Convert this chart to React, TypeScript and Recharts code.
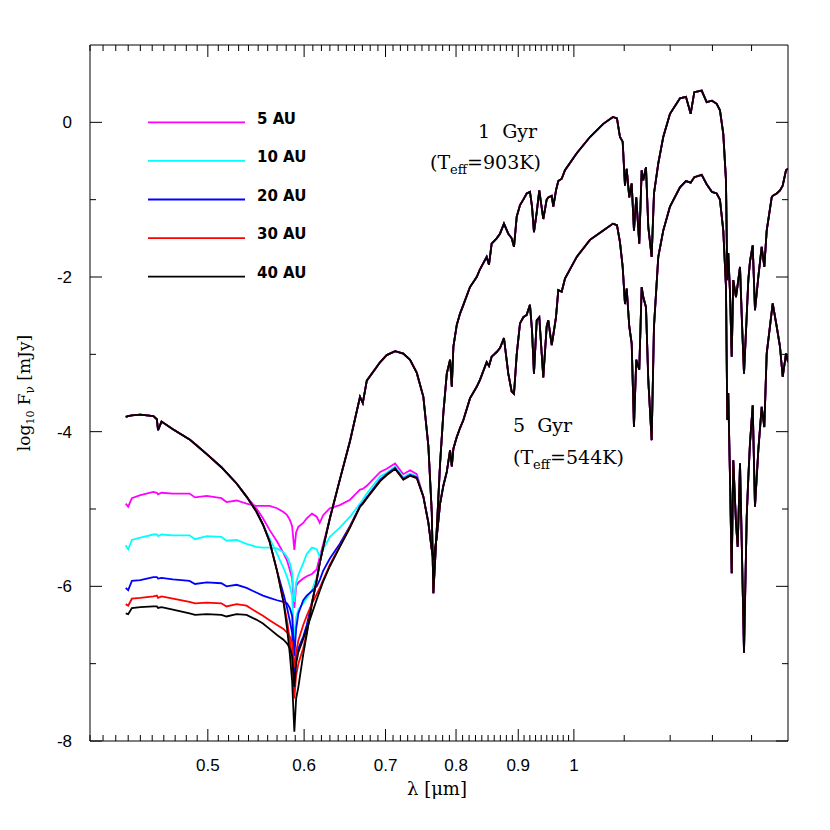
import { LineChart, Line, XAxis, YAxis } from "recharts";

// wavelength grid (micron), short-wave part where the separations differ
const headWl = [
  0.428, 0.43, 0.433, 0.44, 0.451, 0.454, 0.455, 0.458, 0.468, 0.483,
  0.488, 0.499, 0.513, 0.518, 0.528, 0.538, 0.548, 0.555, 0.562, 0.57,
  0.577, 0.581, 0.584, 0.5865, 0.589, 0.591, 0.5935, 0.599, 0.603, 0.609,
  0.6145, 0.618, 0.622, 0.63, 0.642, 0.6545, 0.667, 0.6705, 0.6756, 0.693,
  0.7016, 0.7128, 0.724, 0.7333, 0.7427,
];

// long-wave part, where all separations overlap
const tailWl = [
  0.752, 0.7592, 0.7641, 0.7664, 0.7713, 0.7762, 0.781, 0.7861, 0.791, 0.7936,
  0.796, 0.8011, 0.8062, 0.8112, 0.8214, 0.8319, 0.8371, 0.8478, 0.8515, 0.8558,
  0.864, 0.8694, 0.876, 0.8832, 0.8889, 0.8928, 0.8974, 0.903, 0.9087, 0.9145,
  0.9202, 0.9238, 0.9272, 0.9321, 0.9366, 0.9437, 0.9498, 0.9527, 0.9589, 0.9618,
  0.9667, 0.9709, 0.9772, 0.9833, 1.0054, 1.0309, 1.0572, 1.0768, 1.085, 1.0912,
  1.0968, 1.1016, 1.1052, 1.1106, 1.1157, 1.1205, 1.1254, 1.1318, 1.137, 1.1404,
  1.1463, 1.1513, 1.1587, 1.1638, 1.1733, 1.1844, 1.1996, 1.2225, 1.2364, 1.2475,
  1.2561, 1.2738, 1.2859, 1.2989, 1.3105, 1.3187, 1.327, 1.3338, 1.3371, 1.3396,
  1.344, 1.3483, 1.3524, 1.3593, 1.3637, 1.3697, 1.3749, 1.3801, 1.3872, 1.3914,
  1.3958, 1.403, 1.4091, 1.418, 1.4271, 1.4342, 1.4407, 1.4544, 1.4572, 1.4682,
  1.4774, 1.485, 1.4943, 1.5,
];

// ---- 1 Gyr model (log10 F_nu, mJy) ----
const gyr1Head5 = [
  -3.81, -3.8, -3.79, -3.78, -3.8, -3.84, -3.98, -3.87, -3.97, -4.1,
  -4.16, -4.29, -4.46, -4.53, -4.67, -4.84, -4.99, -5.12, -5.27, -5.42,
  -5.57, -5.67, -5.79, -5.9, -6.28, -6.0, -5.95, -5.9, -5.87, -5.84,
  -5.78, -5.62, -5.46, -5.12, -4.62, -4.12, -3.55, -3.63, -3.34, -3.1,
  -3.01, -2.96, -2.99, -3.07, -3.24,
];
const gyr1Head10 = [
  -3.81, -3.8, -3.79, -3.78, -3.8, -3.84, -3.98, -3.87, -3.97, -4.1,
  -4.16, -4.29, -4.46, -4.53, -4.67, -4.84, -5.03, -5.2, -5.38, -5.58,
  -5.76, -5.88, -6.0, -6.12, -6.78, -6.4, -6.3, -6.22, -6.15, -6.05,
  -5.88, -5.7, -5.5, -5.12, -4.62, -4.12, -3.55, -3.63, -3.34, -3.1,
  -3.01, -2.96, -2.99, -3.07, -3.24,
];
const gyr1Head20 = [
  -3.81, -3.8, -3.79, -3.78, -3.8, -3.84, -3.98, -3.87, -3.97, -4.1,
  -4.16, -4.29, -4.46, -4.53, -4.67, -4.84, -5.03, -5.2, -5.42, -5.8,
  -6.1, -6.28, -6.45, -6.6, -7.2, -6.9, -6.8, -6.65, -6.5, -6.2,
  -5.92, -5.7, -5.5, -5.12, -4.62, -4.12, -3.55, -3.63, -3.34, -3.1,
  -3.01, -2.96, -2.99, -3.07, -3.24,
];
const gyr1Head30 = [
  -3.81, -3.8, -3.79, -3.78, -3.8, -3.84, -3.98, -3.87, -3.97, -4.1,
  -4.16, -4.29, -4.46, -4.53, -4.67, -4.84, -5.03, -5.2, -5.42, -5.8,
  -6.2, -6.45, -6.7, -6.9, -7.45, -7.15, -7.0, -6.8, -6.6, -6.22,
  -5.92, -5.7, -5.5, -5.12, -4.62, -4.12, -3.55, -3.63, -3.34, -3.1,
  -3.01, -2.96, -2.99, -3.07, -3.24,
];
const gyr1Head40 = [
  -3.81, -3.8, -3.79, -3.78, -3.8, -3.84, -3.98, -3.87, -3.97, -4.1,
  -4.16, -4.29, -4.46, -4.53, -4.67, -4.84, -5.03, -5.2, -5.42, -5.8,
  -6.2, -6.55, -6.88, -7.22, -7.88, -7.45, -7.3, -6.88, -6.62, -6.22,
  -5.92, -5.7, -5.5, -5.12, -4.62, -4.12, -3.55, -3.63, -3.34, -3.1,
  -3.01, -2.96, -2.99, -3.07, -3.24,
];
const gyr1Tail = [
  -3.55, -4.19, -5.05, -6.09, -5.27, -4.41, -3.76, -3.25, -3.07, -3.42,
  -2.9, -2.62, -2.47, -2.36, -2.13, -2.0, -1.9, -1.74, -1.84, -1.57,
  -1.5, -1.44, -1.31, -1.44, -1.5, -1.61, -1.22, -1.07, -1.0, -0.92,
  -0.9, -1.09, -1.42, -1.16, -0.88, -1.25, -1.0, -0.97, -0.95, -1.09,
  -0.88, -0.76, -0.73, -0.62, -0.4, -0.19, -0.02, 0.07, 0.05, -0.19,
  -0.25, -0.82, -0.6, -0.97, -0.79, -1.4, -0.97, -1.57, -0.62, -0.75,
  -0.58, -1.35, -1.74, -0.92, -0.53, -0.19, 0.11, 0.31, 0.33, 0.11,
  0.39, 0.41, 0.26, 0.28, 0.24, 0.155, -0.15, -0.75, -2.04, -1.69,
  -2.2, -3.03, -2.04, -2.26, -2.1, -1.87, -2.6, -3.25, -2.5, -2.04,
  -1.8, -1.59, -2.43, -2.0, -1.61, -1.87, -1.4, -0.97, -0.95, -0.92,
  -0.88, -0.82, -0.62, -0.6,
];

// ---- 5 Gyr model ----
const gyr5Head5 = [
  -4.93, -4.97, -4.86, -4.82, -4.78, -4.79, -4.81, -4.79, -4.8, -4.8,
  -4.85, -4.83, -4.86, -4.91, -4.89, -4.93, -4.96, -4.96, -4.96, -4.99,
  -5.04, -5.08, -5.14, -5.22, -5.53, -5.3, -5.23, -5.18, -5.12, -5.06,
  -5.1, -5.18, -5.08, -4.99, -4.95, -4.88, -4.75, -4.74, -4.7, -4.52,
  -4.48, -4.41, -4.55, -4.5, -4.55,
];
const gyr5Head10 = [
  -5.47, -5.52, -5.4, -5.37, -5.33, -5.33, -5.35, -5.33, -5.34, -5.34,
  -5.39, -5.35, -5.36, -5.41, -5.4, -5.45, -5.49, -5.5, -5.5, -5.51,
  -5.56, -5.62, -5.7, -5.82, -6.2, -5.95, -5.85, -5.7, -5.58, -5.5,
  -5.52, -5.62, -5.52, -5.36, -5.24, -5.1, -4.93, -4.88, -4.8, -4.58,
  -4.53, -4.45, -4.59, -4.54, -4.58,
];
const gyr5Head20 = [
  -6.02, -6.05, -5.93, -5.92, -5.88, -5.88, -5.9, -5.89, -5.91, -5.93,
  -5.97, -5.95, -5.96, -6.0, -5.98, -6.02, -6.08, -6.12, -6.15, -6.18,
  -6.2, -6.22, -6.28, -6.38, -6.9, -6.55, -6.35, -6.18, -6.12, -6.06,
  -6.0, -5.92, -5.8, -5.64, -5.45, -5.22, -4.96, -4.92, -4.85, -4.62,
  -4.55, -4.47, -4.61, -4.56, -4.59,
];
const gyr5Head30 = [
  -6.23, -6.25, -6.16, -6.15, -6.13, -6.12, -6.15, -6.13, -6.16, -6.2,
  -6.22, -6.21, -6.22, -6.26, -6.23, -6.25, -6.33, -6.38, -6.44, -6.5,
  -6.55, -6.6, -6.65, -6.72, -7.05, -6.85, -6.7, -6.5, -6.38, -6.22,
  -6.1, -6.02, -5.92, -5.72, -5.48, -5.23, -4.97, -4.93, -4.86, -4.63,
  -4.56, -4.48, -4.62, -4.57, -4.6,
];
const gyr5Head40 = [
  -6.35, -6.36, -6.28, -6.27, -6.26, -6.26, -6.28, -6.27, -6.3, -6.35,
  -6.37, -6.36, -6.37, -6.39, -6.36, -6.37, -6.43, -6.48, -6.55, -6.63,
  -6.69, -6.74, -6.8, -6.9, -7.3, -7.0, -6.85, -6.68, -6.55, -6.35,
  -6.17, -6.06, -5.94, -5.74, -5.49, -5.24, -4.97, -4.93, -4.86, -4.64,
  -4.56, -4.48, -4.62, -4.57, -4.6,
];
const gyr5Tail = [
  -4.84, -5.18, -5.53, -5.66, -5.36, -4.93, -4.7, -4.52, -4.24, -4.45,
  -4.22, -4.07, -3.95, -3.85, -3.57, -3.42, -3.33, -3.1, -3.15, -3.03,
  -2.97, -2.92, -2.79, -3.25, -3.48, -3.51, -3.0, -2.6, -2.52, -2.49,
  -2.36, -2.69, -3.25, -2.56, -2.52, -3.3, -2.64, -2.56, -2.88, -2.75,
  -2.52, -2.17, -2.19, -2.02, -1.74, -1.52, -1.4, -1.31, -1.33, -1.55,
  -1.87, -2.35, -2.15, -2.64, -2.86, -3.94, -3.07, -3.2, -2.13, -2.26,
  -2.39, -3.33, -4.11, -2.64, -1.74, -1.4, -1.09, -0.84, -0.76, -0.78,
  -0.71, -0.68, -0.8, -0.9, -0.92, -1.0, -1.4, -2.13, -3.85, -3.5,
  -4.6, -5.83, -4.37, -5.18, -5.49, -4.41, -5.6, -6.86, -5.1, -4.6,
  -4.15, -3.66, -4.97, -4.24, -3.68, -3.94, -2.99, -2.45, -2.34, -2.64,
  -2.9, -3.29, -2.99, -3.1,
];

const separations = ["5 AU", "10 AU", "20 AU", "30 AU", "40 AU"];
const colors = ["#ff00ff", "#00ffff", "#0000ff", "#ff0000", "#000000"];

const xMajor = [0.5, 0.6, 0.7, 0.8, 0.9, 1];
const yMajor = [-8, -6, -4, -2, 0];
const yTicks = [-8, -7, -6, -5, -4, -3, -2, -1, 0];

// minor ticks every 0.01 below 1 micron, every 0.1 above
const xTicks: number[] = [];
for (let i = 40; i <= 100; i++) xTicks.push(i / 100);
for (let i = 11; i <= 14; i++) xTicks.push(i / 10);

const wavelengths = [...headWl, ...tailWl];
const gyr1 = [
  [...gyr1Head5, ...gyr1Tail],
  [...gyr1Head10, ...gyr1Tail],
  [...gyr1Head20, ...gyr1Tail],
  [...gyr1Head30, ...gyr1Tail],
  [...gyr1Head40, ...gyr1Tail],
];
const gyr5 = [
  [...gyr5Head5, ...gyr5Tail],
  [...gyr5Head10, ...gyr5Tail],
  [...gyr5Head20, ...gyr5Tail],
  [...gyr5Head30, ...gyr5Tail],
  [...gyr5Head40, ...gyr5Tail],
];

const data = wavelengths.map((wl, i) => {
  const row: Record<string, number> = { wl };
  separations.forEach((_, k) => {
    row[`g1_${k}`] = gyr1[k][i];
    row[`g5_${k}`] = gyr5[k][i];
  });
  return row;
});

const sans = "'Liberation Sans', Arimo, Arial, Helvetica, sans-serif";
const serif = "'DejaVu Serif', serif";
const MAJ = 12;
const MIN = 6;

const isMajor = (list: number[], v: number) => list.some((m) => Math.abs(m - v) < 1e-6);

function BottomTick(props: any) {
  const { x, y, payload } = props;
  const major = isMajor(xMajor, payload.value);
  return (
    <g>
      <line x1={x} y1={y} x2={x} y2={y - (major ? MAJ : MIN)} stroke="#000" />
      {major && (
        <text x={x} y={y + 30} textAnchor="middle" style={{ fontFamily: sans, fontSize: 17 }} fill="#000">
          {String(payload.value)}
        </text>
      )}
    </g>
  );
}

function TopTick(props: any) {
  const { x, y, payload } = props;
  const major = isMajor(xMajor, payload.value);
  return <line x1={x} y1={y} x2={x} y2={y + (major ? MAJ : MIN)} stroke="#000" />;
}

function LeftTick(props: any) {
  const { x, y, payload } = props;
  const major = isMajor(yMajor, payload.value);
  return (
    <g>
      <line x1={x} y1={y} x2={x + (major ? MAJ : MIN)} y2={y} stroke="#000" />
      {major && (
        <text x={x - 18} y={y + 6} textAnchor="end" style={{ fontFamily: sans, fontSize: 17 }} fill="#000">
          {String(payload.value)}
        </text>
      )}
    </g>
  );
}

function RightTick(props: any) {
  const { x, y, payload } = props;
  const major = isMajor(yMajor, payload.value);
  return <line x1={x} y1={y} x2={x - (major ? MAJ : MIN)} y2={y} stroke="#000" />;
}

const xAxisCommon = {
  dataKey: "wl",
  type: "number" as const,
  scale: "log" as const,
  domain: [0.4, 1.5],
  allowDataOverflow: true,
  ticks: xTicks,
  interval: 0,
  height: 1,
  tickSize: 0,
  tickMargin: 0,
  tickLine: false,
  axisLine: { stroke: "#000" },
};

const yAxisCommon = {
  type: "number" as const,
  domain: [-8, 1],
  allowDataOverflow: true,
  ticks: yTicks,
  interval: 0,
  width: 1,
  tickSize: 0,
  tickMargin: 0,
  tickLine: false,
  axisLine: { stroke: "#000" },
};

export default function App() {
  const order = [0, 1, 2, 3, 4];
  return (
    <div style={{ position: "absolute", left: 0, top: 0, width: 830, height: 830, background: "#fff" }}>
      <LineChart width={830} height={830} data={data} margin={{ top: 44, right: 41, bottom: 88, left: 89 }}>
        <XAxis xAxisId="b" {...xAxisCommon} tick={BottomTick} />
        <XAxis xAxisId="t" orientation="top" {...xAxisCommon} tick={TopTick} />
        <YAxis yAxisId="l" {...yAxisCommon} tick={LeftTick} />
        <YAxis yAxisId="r" orientation="right" {...yAxisCommon} tick={RightTick} />
        {order.map((k) => [
          <Line
            key={`g5_${k}`}
            xAxisId="b"
            yAxisId="l"
            type="linear"
            dataKey={`g5_${k}`}
            stroke={colors[k]}
            strokeWidth={1.8}
            dot={false}
            isAnimationActive={false}
          />,
          <Line
            key={`g1_${k}`}
            xAxisId="b"
            yAxisId="l"
            type="linear"
            dataKey={`g1_${k}`}
            stroke={colors[k]}
            strokeWidth={1.8}
            dot={false}
            isAnimationActive={false}
          />,
        ])}
      </LineChart>

      <svg width={830} height={830} style={{ position: "absolute", left: 0, top: 0, pointerEvents: "none" }}>
        {separations.map((s, k) => (
          <g key={s}>
            <line x1={148} x2={245} y1={122.3 + k * 38.6} y2={122.3 + k * 38.6} stroke={colors[k]} strokeWidth={1.8} />
            <text x={257} y={123.5 + k * 38.6} style={{ fontFamily: "'DejaVu Sans', sans-serif", fontWeight: "bold", fontSize: 15 }} fill="#000">
              {s}
            </text>
          </g>
        ))}

        <text x={478} y={138} style={{ fontFamily: serif, fontSize: 19, whiteSpace: "pre" }} fill="#000">
          {"1  Gyr"}
        </text>
        <text x={430} y={169} style={{ fontFamily: serif, fontSize: 19 }} fill="#000">
          (T<tspan dy={5} fontSize={13}>eff</tspan>
          <tspan dy={-5}>=903K)</tspan>
        </text>
        <text x={513} y={432} style={{ fontFamily: serif, fontSize: 19, whiteSpace: "pre" }} fill="#000">
          {"5  Gyr"}
        </text>
        <text x={513} y={464} style={{ fontFamily: serif, fontSize: 19 }} fill="#000">
          (T<tspan dy={5} fontSize={13}>eff</tspan>
          <tspan dy={-5}>=544K)</tspan>
        </text>

        <text x={437} y={795} textAnchor="middle" style={{ fontFamily: serif, fontSize: 18 }} fill="#000">
          λ [μm]
        </text>
        <text
          x={0}
          y={0}
          transform="translate(30 393) rotate(-90)"
          textAnchor="middle"
          style={{ fontFamily: serif, fontSize: 17 }}
          fill="#000"
        >
          log<tspan dy={4} fontSize={11}>10</tspan>
          <tspan dy={-4}> F</tspan>
          <tspan dy={4} fontSize={12}>ν</tspan>
          <tspan dy={-4}> [mJy]</tspan>
        </text>
      </svg>
    </div>
  );
}
